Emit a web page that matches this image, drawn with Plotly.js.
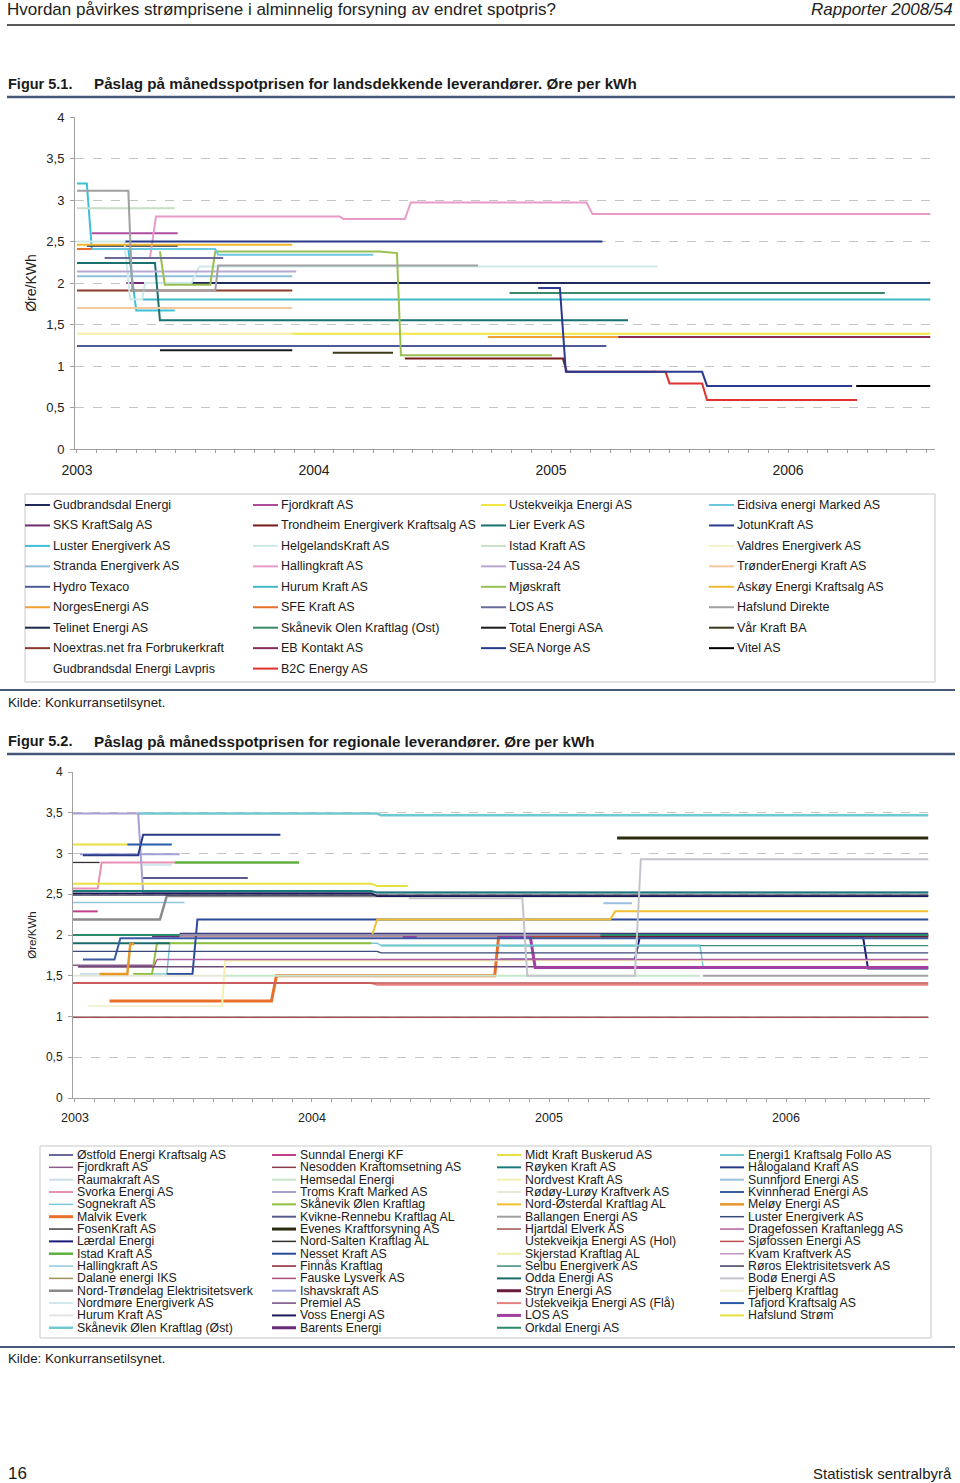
<!DOCTYPE html>
<html>
<head>
<meta charset="utf-8">
<script src="https://cdn.plot.ly/plotly-3.0.1.min.js"></script>
<style>
html,body{margin:0;padding:0;background:#fff;}
#chart{width:960px;height:1483px;}
</style>
</head>
<body>
<div id="chart"></div>
<script>
// ---------------- DATA : Figur 5.1 (landsdekkende leverandører) ----------------
// x = months since January 2003, y = øre per kWh
const yearLabels = ['2003', '2004', '2005', '2006'];
const yTickVals = [0, 0.5, 1, 1.5, 2, 2.5, 3, 3.5, 4];
const yTickText = ['0', '0,5', '1', '1,5', '2', '2,5', '3', '3,5', '4'];

const names1 = [
  'Gudbrandsdal Energi', 'SKS KraftSalg AS', 'Luster Energiverk AS', 'Stranda Energiverk AS', 'Hydro Texaco',
  'NorgesEnergi AS', 'Telinet Energi AS', 'Noextras.net fra Forbrukerkraft', 'Gudbrandsdal Energi Lavpris',
  'Fjordkraft AS', 'Trondheim Energiverk Kraftsalg AS', 'HelgelandsKraft AS', 'Hallingkraft AS', 'Hurum Kraft AS',
  'SFE Kraft AS', 'Skånevik Olen Kraftlag (Ost)', 'EB Kontakt AS', 'B2C Energy AS',
  'Ustekveikja Energi AS', 'Lier Everk AS', 'Istad Kraft AS', 'Tussa-24 AS', 'Mjøskraft', 'LOS AS',
  'Total Energi ASA', 'SEA Norge AS',
  'Eidsiva energi Marked AS', 'JotunKraft AS', 'Valdres Energiverk AS', 'TrønderEnergi Kraft AS',
  'Askøy Energi Kraftsalg AS', 'Hafslund Direkte', 'Vår Kraft BA', 'Vitel AS'
];
const xs1 = [
  [5.8, 43.2], [2.5, 3.4], [0, 0.5, 0.75, 2.6, 3.0, 4.95], [0, 10.9], [0, 26.8],
  [20.8, 27.4], [0.5, 5.1], [0, 10.9], [],
  [0.75, 5.1], [16.6, 24.6, 24.8, 29.3], [0, 2.4, 2.7, 3.3, 3.45, 5.8, 6.2, 29.4],
  [3.7, 4.0, 13.3, 13.5, 16.6, 16.9, 25.8, 26.1, 43.2], [3.35, 43.2],
  [0, 5.4], [21.9, 40.9], [27.4, 43.2], [29.2, 29.8, 30.0, 31.65, 31.9, 39.5],
  [0, 43.2], [0, 3.95, 4.2, 27.9], [0, 4.95], [0, 11.1],
  [4.2, 4.45, 6.75, 7.0, 15.3, 16.2, 16.4, 24.05], [1.4, 7.4], [4.2, 10.9], [2.45, 26.6],
  [0.75, 7.0, 7.15, 15.0], [23.35, 24.45, 24.75, 31.65, 31.9, 39.25], [0, 10.9], [0, 10.9],
  [0, 10.9], [0, 2.6, 2.8, 7.0, 7.15, 20.3], [12.95, 16.0], [39.45, 43.2]
];
const ys1 = [
  [2.0, 2.0], [2.0, 2.0], [3.2, 3.2, 2.41, 2.41, 1.67, 1.67], [2.08, 2.08], [1.24, 1.24],
  [1.35, 1.35], [2.45, 2.45], [1.91, 1.91], [],
  [2.6, 2.6], [1.09, 1.09, 0.93, 0.93], [2.5, 2.5, 1.8, 1.8, 2.0, 2.0, 2.2, 2.2],
  [2.31, 2.8, 2.8, 2.77, 2.77, 2.97, 2.97, 2.83, 2.83], [1.8, 1.8],
  [2.41, 2.41], [1.88, 1.88], [1.35, 1.35], [0.93, 0.93, 0.79, 0.79, 0.59, 0.59],
  [1.39, 1.39], [2.24, 2.24, 1.55, 1.55], [2.9, 2.9], [2.14, 2.14],
  [2.38, 1.98, 1.98, 2.38, 2.38, 2.36, 1.13, 1.13], [2.3, 2.3], [1.19, 1.19], [2.5, 2.5],
  [2.41, 2.41, 2.34, 2.34], [1.94, 1.94, 0.93, 0.93, 0.76, 0.76], [1.39, 1.39], [1.7, 1.7],
  [2.46, 2.46], [3.11, 3.11, 1.91, 1.91, 2.21, 2.21], [1.16, 1.16], [0.76, 0.76]
];
const colors1 = [
  '#1F2A5A', '#6E2C6E', '#3CC0D8', '#93BEDA', '#4F5A9A', '#F0A030', '#1A2A4A', '#8A3A2A', 'rgba(0,0,0,0)',
  '#B04CA0', '#7A1A1A', '#CDEAEA', '#E89AC8', '#40B8C8', '#E8702A', '#3A8A6A', '#8A2A5A', '#E03030',
  '#F0E840', '#1A7070', '#C8DEC8', '#B8A8D0', '#98C050', '#6A6A9A', '#1A1A1A', '#2A3A8A',
  '#6CC8E0', '#2A3A90', '#F5F0C8', '#F5C8A0', '#F0B830', '#A0A0A0', '#3A3A1A', '#000000'
];
const legendRows1 = [9, 9, 8, 8];

// ---------------- DATA : Figur 5.2 (regionale leverandører) ----------------
const names2 = [
  'Østfold Energi Kraftsalg AS', 'Fjordkraft AS', 'Raumakraft AS', 'Svorka Energi AS', 'Sognekraft AS',
  'Malvik Everk', 'FosenKraft AS', 'Lærdal Energi', 'Istad Kraft AS', 'Hallingkraft AS', 'Dalane energi IKS',
  'Nord-Trøndelag Elektrisitetsverk', 'Nordmøre Energiverk AS', 'Hurum Kraft AS', 'Skånevik Ølen Kraftlag (Øst)',
  'Sunndal Energi KF', 'Nesodden Kraftomsetning AS', 'Hemsedal Energi', 'Troms Kraft Marked AS',
  'Skånevik Ølen Kraftlag', 'Kvikne-Rennebu Kraftlag AL', 'Evenes Kraftforsyning AS', 'Nord-Salten Kraftlag AL',
  'Nesset Kraft AS', 'Finnås Kraftlag', 'Fauske Lysverk AS', 'Ishavskraft AS', 'Premiel AS', 'Voss Energi AS',
  'Barents Energi',
  'Midt Kraft Buskerud AS', 'Røyken Kraft AS', 'Nordvest Kraft AS', 'Rødøy-Lurøy Kraftverk AS',
  'Nord-Østerdal Kraftlag AL', 'Ballangen Energi AS', 'Hjartdal Elverk AS', 'Ustekveikja Energi AS (Hol)',
  'Skjerstad Kraftlag AL', 'Selbu Energiverk AS', 'Odda Energi AS', 'Stryn Energi AS',
  'Ustekveikja Energi AS (Flå)', 'LOS AS', 'Orkdal Energi AS',
  'Energi1 Kraftsalg Follo AS', 'Hålogaland Kraft AS', 'Sunnfjord Energi AS', 'Kvinnherad Energi AS',
  'Meløy Energi AS', 'Luster Energiverk AS', 'Dragefossen Kraftanlegg AS', 'Sjøfossen Energi AS',
  'Kvam Kraftverk AS', 'Røros Elektrisitetsverk AS', 'Bodø Energi AS', 'Fjelberg Kraftlag',
  'Tafjord Kraftsalg AS', 'Hafslund Strøm'
];
const xs2 = [
  [5.3, 43.2], [-0.1, 4.05], [0.25, 1.3], [-0.1, 1.15, 1.35, 5.05],
  [3.2, 4.65, 4.8, 15.3, 15.5, 31.65, 31.8, 43.2],
  [1.75, 9.95, 10.2, 21.25, 21.45, 43.2], [5.3, 43.2], [21.5, 28.35, 28.6, 39.9, 40.15, 43.2],
  [5.05, 11.35], [-0.1, 5.55], [-0.1, 43.2], [-0.1, 4.3, 4.65, 43.2], [3.45, 4.9], [-0.1, 43.2],
  [3.2, 15.3, 15.5, 43.2],
  [-0.1, 1.15], [-0.1, 43.2], [7.6, 31.65], [-0.1, 3.2, 3.45, 43.2], [2.95, 3.9, 4.15, 15.0],
  [3.45, 8.75], [27.45, 43.2], [-0.1, 1.25], [4.65, 5.95, 6.2, 43.2], [5.3, 26.6],
  [0.15, 4.0, 4.15], [0.25, 5.3], [0.15, 43.2], [-0.1, 15.0, 15.3, 43.2], [3.9, 5.3],
  [-0.1, 2.65], [-0.1, 15.0, 15.3, 43.2], [0.65, 7.45, 7.6, 43.2], [-0.1, 7.6],
  [14.0, 15.05, 15.3, 27.1, 27.35, 43.2], [31.8, 43.2], [-0.1, 43.2], [], [7.6, 21.0],
  [21.65, 43.2], [-0.1, 4.8], [26.6, 43.2], [-0.1, 15.0, 15.3, 43.2],
  [16.6, 17.3, 17.35, 21.45, 23.05, 23.3, 43.2], [-0.1, 43.2],
  [15.5, 31.65], [0.4, 3.2, 3.45, 10.4], [26.75, 28.2], [0.4, 2.0, 2.3, 43.2],
  [1.25, 2.65, 2.8, 3.0], [-0.1, 15.3, 15.5, 43.2], [4.15, 43.2], [-0.1, 43.2], [5.3, 26.6],
  [-0.1, 43.2], [16.9, 22.65, 22.9, 28.35, 28.65, 43.2], [0.65, 7.45], [2.65, 4.9],
  [-0.1, 15.0, 15.3, 16.85]
];
const ys2 = [
  [2.02, 2.02], [1.63, 1.63], [1.52, 1.52], [2.57, 2.57, 2.89, 2.89],
  [1.52, 1.52, 1.9, 1.9, 1.87, 1.87, 1.61, 1.61],
  [1.19, 1.19, 1.5, 1.5, 1.98, 1.98], [2.0, 2.0], [1.7, 1.7, 1.98, 1.98, 1.59, 1.59],
  [2.89, 2.89], [2.4, 2.4], [0.99, 0.99], [2.19, 2.19, 2.48, 2.48], [2.86, 2.86], [0.99, 0.99],
  [3.49, 3.49, 3.47, 3.47],
  [2.29, 2.29], [0.99, 0.99], [1.5, 1.5], [3.49, 3.49, 2.52, 2.52], [1.52, 1.52, 1.9, 1.9],
  [2.7, 2.7], [3.19, 3.19], [2.89, 2.89], [1.52, 1.52, 2.19, 2.19], [1.99, 1.99],
  [1.61, 1.61, 1.7], [2.99, 2.99], [1.61, 1.61], [2.51, 2.51, 2.48, 2.48], [1.99, 1.99],
  [3.11, 3.11], [2.54, 2.54, 2.52, 2.52], [1.13, 1.13, 1.69, 1.69], [1.5, 1.5],
  [2.0, 2.0, 2.19, 2.19, 2.29, 2.29], [1.5, 1.5], [0.99, 0.99], [], [1.69, 1.69],
  [1.87, 1.87], [1.9, 1.9], [1.99, 1.99], [1.41, 1.41, 1.39, 1.39],
  [1.98, 1.98, null, 1.98, 1.98, 1.6, 1.6], [2.0, 2.0],
  [1.87, 1.87], [2.98, 2.98, 3.23, 3.23], [2.39, 2.39], [1.7, 1.7, 1.96, 1.96],
  [1.52, 1.52, 1.89, 1.89], [1.8, 1.8, 1.78, 1.78], [1.7, 1.7], [1.41, 1.41], [2.0, 2.0],
  [2.49, 2.49], [2.45, 2.45, 1.5, 1.5, 2.93, 2.93], [1.13, 1.13], [3.11, 3.11],
  [2.63, 2.63, 2.6, 2.6]
];
const colors2 = [
  '#3A3A7A', '#8A5A8A', '#C8E0EC', '#E890B4', '#78C8D8', '#E8702A', '#404040', '#1A1A7A', '#60B040',
  '#90C8E0', '#A09060', '#8A8A8A', '#D0E6F0', '#E2E2E2', '#70C8D0',
  '#C0408A', '#8A3A4A', '#C8E6C8', '#A8A0D0', '#90C040', '#5A5A8A', '#2A2A10', '#303030', '#2A4A9A',
  '#8A2030', '#B05080', '#A0A0D8', '#6A4A7A', '#1A1A5A', '#6A2A7A',
  '#E8E040', '#1A7A7A', '#F5F0B0', '#E8E8D8', '#F0C030', '#A0A0A0', '#A05050', 'rgba(0,0,0,0)',
  '#EEEEA8', '#3A8A7A', '#1A6A6A', '#6A1A3A', '#E88080', '#A040A0', '#2A8A6A',
  '#70C8D0', '#2A3A8A', '#9AC0E0', '#3A5AA0', '#E8982A', '#3A4A7A', '#B060A0', '#C05050', '#C090C0',
  '#3A3A5A', '#C4C4CC', '#F2F2D4', '#2A5AAA', '#E8E040'
];
const widths2 = [
  1.3, 1.5, 2, 2, 1.5, 3, 1.3, 2, 2.5, 1.5, 1.3, 2.5, 2, 2, 2.5,
  2, 1.3, 2, 2, 2, 2, 3, 1.3, 2, 1.3, 1.3, 2, 1.5, 2, 3,
  2, 2, 2, 2, 2, 2, 1.3, 2, 2, 1.3, 2, 3, 2, 3, 2,
  2, 2, 2, 2, 2.5, 1.3, 1.5, 1.5, 1.5, 1.3, 2, 2, 2, 2
];
const legendRows2 = [15, 15, 15, 14];

// ---------------- LAYOUT HELPERS ----------------
const W = 960, H = 1483;
const FONT = 'Liberation Sans, Arial, sans-serif';
const fx = v => v / W;
const fy = v => 1 - v / H;

const traces = [];
names1.forEach((n, i) => traces.push({
  type: 'scatter', mode: 'lines', name: n, x: xs1[i], y: ys1[i], xaxis: 'x', yaxis: 'y',
  line: { color: colors1[i], width: 2 }, showlegend: false, hoverinfo: 'skip'
}));
names2.forEach((n, i) => traces.push({
  type: 'scatter', mode: 'lines', name: n, x: xs2[i], y: ys2[i], xaxis: 'x2', yaxis: 'y2',
  line: { color: colors2[i], width: widths2[i] }, showlegend: false, hoverinfo: 'skip'
}));

const monthVals = [];
const monthText = [];
for (let m = 0; m <= 43; m++) {
  monthVals.push(m);
  monthText.push(m % 12 === 0 ? yearLabels[m / 12] : '');
}

const shapes = [];
const annotations = [];
function text(t, x, y, size, opts) {
  annotations.push(Object.assign({
    text: t, xref: 'paper', yref: 'paper', x: fx(x), y: fy(y), xanchor: 'left', yanchor: 'middle',
    showarrow: false, font: { family: FONT, size: size, color: '#1a1a1a' }, borderpad: 0
  }, opts || {}));
}
function hline(x0, x1, y, color, width) {
  shapes.push({ type: 'line', xref: 'paper', yref: 'paper', x0: fx(x0), x1: fx(x1), y0: fy(y), y1: fy(y),
    line: { color: color, width: width } });
}
function rect(x0, y0, x1, y1, color) {
  shapes.push({ type: 'rect', xref: 'paper', yref: 'paper', x0: fx(x0), x1: fx(x1), y0: fy(y1), y1: fy(y0),
    line: { color: color, width: 1 }, fillcolor: 'rgba(0,0,0,0)' });
}

// header
text('Hvordan påvirkes strømprisene i alminnelig forsyning av endret spotpris?', 6, 9, 17, { font: { family: FONT, size: 17, color: '#222' } });
text('<i>Rapporter 2008/54</i>', 954, 9, 17, { xanchor: 'right', font: { family: FONT, size: 17, color: '#222' } });
hline(7, 955, 25, '#222', 1.5);

// figure 1 title
text('<b>Figur 5.1.</b>', 7, 84, 14.5);
text('<b>Påslag på månedsspotprisen for landsdekkende leverandører. Øre per kWh</b>', 93, 84, 15.2);
hline(7, 955, 97, '#485878', 2.5);
hline(0, 955, 690, '#485878', 2);
text('Kilde: Konkurransetilsynet.', 7, 702, 13.3);

// figure 2 title
text('<b>Figur 5.2.</b>', 7, 741, 14.5);
text('<b>Påslag på månedsspotprisen for regionale leverandører. Øre per kWh</b>', 93, 741, 15.2);
hline(7, 955, 754, '#485878', 2.5);
hline(0, 955, 1347, '#485878', 2);
text('Kilde: Konkurransetilsynet.', 7, 1358, 13.3);

// footer
text('16', 7, 1473, 17);
text('Statistisk sentralbyrå', 953, 1473, 15);

annotations[annotations.length - 1].xanchor = 'right';

// legend 1
rect(25, 494, 935, 682, '#C8C8C8');
{
  const colX = [25, 253, 481, 709];
  let k = 0;
  legendRows1.forEach((rows, c) => {
    for (let r = 0; r < rows; r++, k++) {
      const yy = 505 + r * 20.45;
      hline(colX[c], colX[c] + 25, yy, colors1[k], 2);
      text(names1[k], colX[c] + 27, yy, 12.5);
    }
  });
}
// legend 2
rect(40, 1146, 931, 1338, '#C8C8C8');
{
  const colX = [49, 272, 497, 720];
  let k = 0;
  legendRows2.forEach((rows, c) => {
    for (let r = 0; r < rows; r++, k++) {
      const yy = 1155 + r * 12.34;
      hline(colX[c], colX[c] + 24, yy, colors2[k], Math.max(widths2[k], 1.5));
      text(names2[k], colX[c] + 27, yy, 12.3);
    }
  });
}

const axisFont = { family: FONT, size: 13, color: '#222' };
const layout = {
  width: W, height: H,
  margin: { l: 0, r: 0, t: 0, b: 0 },
  paper_bgcolor: '#fff', plot_bgcolor: '#fff',
  showlegend: false,
  xaxis: {
    domain: [fx(75), fx(935)], range: [-0.1, 43.44], anchor: 'y',
    tickmode: 'array', tickvals: monthVals, ticktext: monthText,
    ticks: 'outside', ticklen: 3, tickcolor: '#A0A0A0', tickwidth: 1,
    showline: true, linecolor: '#A0A0A0', linewidth: 1,
    showgrid: false, zeroline: false, ticklabelstandoff: 5,
    tickfont: { family: FONT, size: 14, color: '#222' }, fixedrange: true
  },
  yaxis: {
    domain: [fy(449), fy(117)], range: [0, 4], anchor: 'x',
    tickmode: 'array', tickvals: yTickVals, ticktext: yTickText,
    ticks: 'outside', ticklen: 4, tickcolor: '#A0A0A0',
    showline: true, linecolor: '#A0A0A0', linewidth: 1,
    showgrid: true, gridcolor: '#C4C4C4', griddash: 'dash', gridwidth: 1,
    zeroline: false, tickfont: axisFont, ticklabelstandoff: 3,
    title: { text: 'Øre/KWh', font: { family: FONT, size: 14, color: '#222' }, standoff: 6 },
    fixedrange: true
  },
  xaxis2: {
    domain: [fx(73), fx(930)], range: [-0.1, 43.29], anchor: 'y2',
    tickmode: 'array', tickvals: monthVals, ticktext: monthText,
    ticks: 'outside', ticklen: 3, tickcolor: '#A0A0A0', tickwidth: 1,
    showline: true, linecolor: '#A0A0A0', linewidth: 1,
    showgrid: false, zeroline: false, ticklabelstandoff: 5,
    tickfont: { family: FONT, size: 12.5, color: '#222' }, fixedrange: true
  },
  yaxis2: {
    domain: [fy(1098), fy(772)], range: [0, 4], anchor: 'x2',
    tickmode: 'array', tickvals: yTickVals, ticktext: yTickText,
    ticks: 'outside', ticklen: 4, tickcolor: '#A0A0A0',
    showline: true, linecolor: '#A0A0A0', linewidth: 1,
    showgrid: true, gridcolor: '#C4C4C4', griddash: 'dash', gridwidth: 1,
    zeroline: false, tickfont: { family: FONT, size: 12, color: '#222' }, ticklabelstandoff: 3,
    title: { text: 'Øre/KWh', font: { family: FONT, size: 11.5, color: '#222' }, standoff: 6 },
    fixedrange: true
  },
  shapes: shapes,
  annotations: annotations
};

Plotly.newPlot('chart', traces, layout, { staticPlot: true, displayModeBar: false });
</script>
</body>
</html>
